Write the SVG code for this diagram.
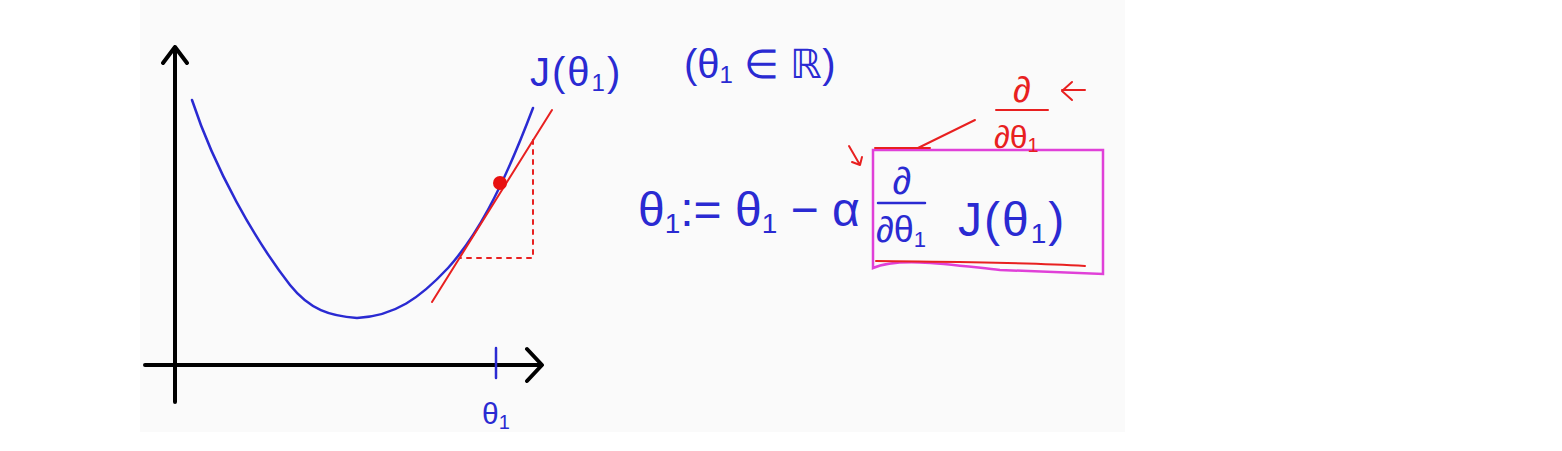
<svg xmlns="http://www.w3.org/2000/svg" width="1562" height="451" viewBox="0 0 1562 451">
<defs>
<style>
.ax{stroke:#000;stroke-width:4;fill:none;stroke-linecap:round;stroke-linejoin:round}
.bl{stroke:#2a2ad2;stroke-width:2.5;fill:none;stroke-linecap:round;stroke-linejoin:round}
.rd{stroke:#e82020;stroke-width:2;fill:none;stroke-linecap:round;stroke-linejoin:round}
.mg{stroke:#e040d8;stroke-width:2.5;fill:none}
.tb{font-family:"Liberation Sans",sans-serif;fill:#2a2ad2}
.tr{font-family:"Liberation Sans",sans-serif;fill:#e82020}
</style>
</defs>
<rect x="0" y="0" width="1562" height="451" fill="#fff"/>
<rect x="140" y="0" width="985" height="432" fill="#fafafa"/>
<g id="axes">
<path class="ax" d="M175 402 V47 M163 63 L175 47 L187 63"/>
<path class="ax" d="M145 365 H541 M527 349 L542 365 L527 381"/>
</g>
<g id="curve">
<path class="bl" d="M192 100 C215 170 255 240 290 285 C310 310 330 316 357 318 C395 316 420 298 448 268 C475 238 500 195 533 108"/>
<path class="bl" d="M496 348 V378"/>
</g>
<g id="tangent">
<path class="rd" d="M432 302 L552 110"/>
<path class="rd" d="M533 140 V258 H460" stroke-dasharray="4 6" stroke-width="1.5"/>
<circle cx="500" cy="183" r="7" fill="#e81010"/>
</g>
<g id="labels">
<text class="tb" x="482" y="424" font-size="30">θ<tspan font-size="20" dy="5">1</tspan></text>
<text class="tb" x="530" y="86" font-size="40" letter-spacing="2">J(θ<tspan font-size="24" dy="5">1</tspan><tspan dy="-5">)</tspan></text>
<text class="tb" x="684" y="78" font-size="40">(θ<tspan font-size="24" dy="5">1</tspan><tspan dy="-5"> ∈ ℝ)</tspan></text>
</g>
<g id="formula">
<text class="tb" x="638" y="226" font-size="48">θ<tspan font-size="28" dy="7">1</tspan><tspan dy="-7">:= θ</tspan><tspan font-size="28" dy="7">1</tspan><tspan dy="-7"> − α</tspan></text>
<text class="tb" x="902" y="194" font-size="38" text-anchor="middle">∂</text>
<path class="bl" d="M878 203 H925"/>
<text class="tb" x="876" y="242" font-size="36">∂θ<tspan font-size="22" dy="5">1</tspan></text>
<text class="tb" x="958" y="236" font-size="48" letter-spacing="2">J(θ<tspan font-size="28" dy="7">1</tspan><tspan dy="-7">)</tspan></text>
</g>
<g id="box">
<path class="mg" d="M873 150 H1103 V274 L1000 270 C960 266 900 256 873 268 Z"/>
</g>
<g id="annotation">
<text class="tr" x="1022" y="102" font-size="36" text-anchor="middle">∂</text>
<path class="rd" d="M996 110 H1048"/>
<text class="tr" x="994" y="148" font-size="32">∂θ<tspan font-size="20" dy="4">1</tspan></text>
<path class="rd" d="M1085 90 H1062 M1072 82 L1062 91 L1072 100"/>
<path class="rd" d="M975 120 L918 148 M875 148 H930"/>
<path class="rd" d="M849 146 L860 165 M852 162 L860 165 L862 157"/>
<path class="rd" d="M876 261 C950 262 1020 262 1085 266"/>
</g>
</svg>
